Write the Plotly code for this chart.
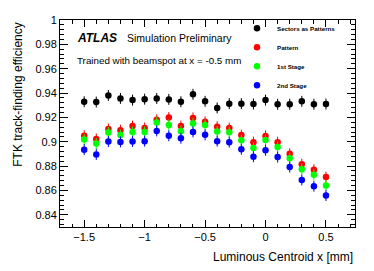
import plotly.graph_objects as go

x_vals = [-1.5, -1.4, -1.3, -1.2, -1.1, -1.0, -0.9, -0.8, -0.7, -0.6, -0.5,
          -0.4, -0.3, -0.2, -0.1, 0.0, 0.1, 0.2, 0.3, 0.4, 0.5]

sectors = [0.9329, 0.9326, 0.9380, 0.9356, 0.9342, 0.9350, 0.9356, 0.9348, 0.9329, 0.9390, 0.9332,
           0.9278, 0.9313, 0.9313, 0.9310, 0.9342, 0.9308, 0.9308, 0.9332, 0.9308, 0.9310]
pattern = [0.9050, 0.9023, 0.9105, 0.9095, 0.9129, 0.9113, 0.9180, 0.9199, 0.9129, 0.9196, 0.9164,
           0.9124, 0.9113, 0.9055, 0.8997, 0.9047, 0.8997, 0.8901, 0.8816, 0.8770, 0.8710]
stage1 = [0.9018, 0.8986, 0.9077, 0.9055, 0.9081, 0.9081, 0.9159, 0.9137, 0.9087, 0.9151, 0.9137,
          0.9085, 0.9079, 0.9013, 0.8949, 0.9015, 0.8957, 0.8864, 0.8774, 0.8730, 0.8640]
stage2 = [0.8935, 0.8896, 0.9002, 0.8999, 0.9002, 0.9005, 0.9089, 0.9049, 0.9029, 0.9081, 0.9057,
          0.9005, 0.8997, 0.8938, 0.8877, 0.8930, 0.8874, 0.8792, 0.8686, 0.8635, 0.8558]
errors = [0.0045, 0.0045, 0.0045, 0.0045, 0.0045, 0.0045, 0.0045, 0.0045, 0.0045, 0.0045, 0.0045,
          0.0045, 0.0045, 0.0045, 0.0045, 0.0045, 0.0045, 0.0045, 0.0045, 0.0045, 0.0045]

series_names = ["Sectors as Patterns", "Pattern", "1st Stage", "2nd Stage"]
series_values = [sectors, pattern, stage1, stage2]
series_colors = ["#000000", "#ff0000", "#00ff00", "#0000ff"]

y_tickvals = [0.84, 0.86, 0.88, 0.90, 0.92, 0.94, 0.96, 0.98, 1.0]
y_ticktext = ["0.84", "0.86", "0.88", "0.9", "0.92", "0.94", "0.96", "0.98", "1"]
x_tickvals = [-1.5, -1.0, -0.5, 0.0, 0.5]
x_ticktext = ["\u22121.5", "\u22121", "\u22120.5", "0", "0.5"]

FONT = "Liberation Sans"

fig = go.Figure()
for name, vals, col in zip(series_names, series_values, series_colors):
    fig.add_trace(go.Scatter(
        x=x_vals, y=vals, mode="markers", name=name,
        marker=dict(color=col, size=6.5, symbol="circle"),
        error_y=dict(type="data", array=errors, visible=True, color=col,
                     thickness=1, width=0),
    ))

axis_common = dict(
    showgrid=False, zeroline=False, showline=True, linecolor="black", linewidth=1,
    mirror="allticks", ticks="inside", tickcolor="black", tickwidth=1,
    tickfont=dict(family=FONT, size=11, color="black"),
)

fig.update_xaxes(range=[-1.7, 0.74], tickvals=x_tickvals, ticktext=x_ticktext, ticklen=7,
                 minor=dict(ticks="inside", dtick=0.1, tick0=0, ticklen=3.5, tickcolor="black"),
                 **axis_common)
fig.update_yaxes(range=[0.83, 1.0], tickvals=y_tickvals, ticktext=y_ticktext, ticklen=8,
                 minor=dict(ticks="inside", dtick=0.004, tick0=0.8, ticklen=4, tickcolor="black"),
                 **axis_common)

# The page body has an 8px default margin, so the figure is sized/offset to compensate.
fig.update_layout(
    width=366, height=263,
    margin=dict(l=52, r=19, t=5.5, b=44.3),
    paper_bgcolor="white", plot_bgcolor="white",
    font=dict(family=FONT, color="black"),
    showlegend=True,
    legend=dict(x=0.6, y=1.03, xanchor="left", yanchor="top",
                bgcolor="rgba(0,0,0,0)", borderwidth=0,
                font=dict(family=FONT, size=6.2, color="black", weight="bold"),
                itemwidth=30, tracegroupgap=0),
    annotations=[
        dict(text="<b><i>ATLAS</i></b>", x=0.05, y=0.912, xref="paper", yref="paper",
             xanchor="left", yanchor="middle", showarrow=False,
             font=dict(family=FONT, size=12, color="black")),
        dict(text="Simulation Preliminary", x=0.222, y=0.912, xref="paper", yref="paper",
             xanchor="left", yanchor="middle", showarrow=False,
             font=dict(family=FONT, size=10.5, color="black")),
        dict(text="Trained with beamspot at x = -0.5 mm", x=0.05, y=0.806, xref="paper", yref="paper",
             xanchor="left", yanchor="middle", showarrow=False,
             font=dict(family=FONT, size=9.8, color="black")),
        dict(text="FTK track-finding efficiency", x=-0.145, y=1.0, xref="paper", yref="paper",
             xanchor="center", yanchor="top", showarrow=False, textangle=-90,
             font=dict(family=FONT, size=12, color="black")),
        dict(text="Luminous Centroid x [mm]", x=1.0, y=-0.147, xref="paper", yref="paper",
             xanchor="right", yanchor="middle", showarrow=False,
             font=dict(family=FONT, size=12, color="black")),
    ],
)

fig.write_html("out.html")
